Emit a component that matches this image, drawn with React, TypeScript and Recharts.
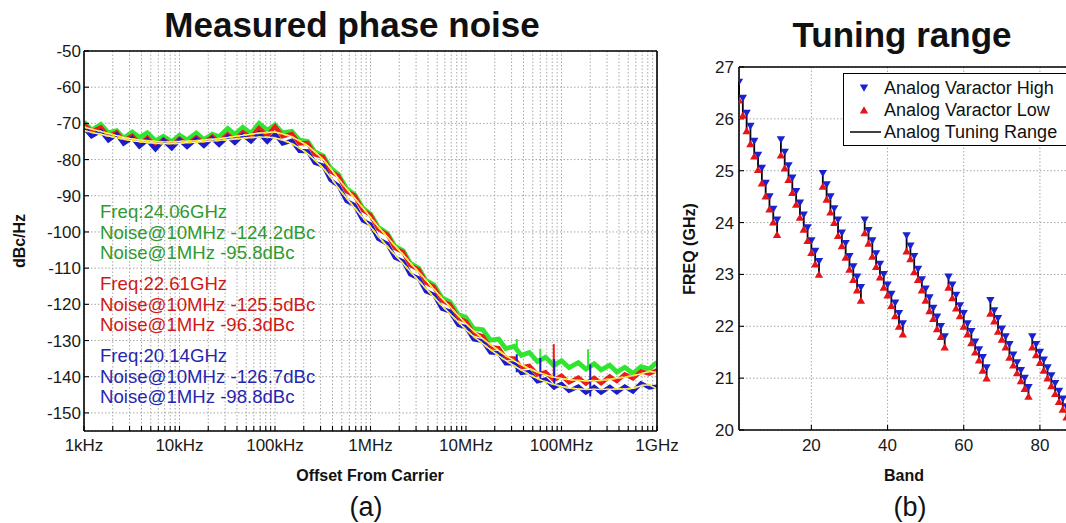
import React from 'react';
import { ComposedChart, Line, XAxis, YAxis, CartesianGrid, Scatter, ErrorBar, Legend } from 'recharts';

const FONT = '"Liberation Sans", Arial, Helvetica, sans-serif';

// ---------- Panel (a): measured phase noise ----------
const offsetFreqs = [
  1e3, 1.2e3, 1.5e3, 1.8e3, 2.2e3, 2.6e3, 3.2e3, 3.8e3, 4.6e3, 5.6e3, 6.8e3, 8.3e3,
  1e4, 1.2e4, 1.5e4, 1.8e4, 2.2e4, 2.6e4, 3.2e4, 3.8e4, 4.6e4, 5.6e4, 6.8e4, 8.3e4,
  1e5, 1.2e5, 1.5e5, 1.8e5, 2.2e5, 2.6e5, 3.2e5, 3.8e5, 4.6e5, 5.6e5, 6.8e5, 8.3e5,
  1e6, 1.2e6, 1.5e6, 1.8e6, 2.2e6, 2.6e6, 3.2e6, 3.8e6, 4.6e6, 5.6e6, 6.8e6, 8.3e6,
  1e7, 1.2e7, 1.5e7, 1.8e7, 2.2e7, 2.6e7, 3.2e7, 3.8e7, 4.6e7, 5.6e7, 6.8e7, 8.3e7,
  1e8, 1.2e8, 1.5e8, 1.8e8, 2.2e8, 2.6e8, 3.2e8, 3.8e8, 4.6e8, 5.6e8, 6.8e8, 8.3e8,
  1e9,
];

const greenNoise = [
  -69.6, -71.9, -70.3, -72.6, -72.0, -74.1, -72.4, -73.9, -72.6, -74.8, -73.6, -75.1,
  -73.3, -74.6, -72.7, -74.5, -73.0, -73.7, -71.4, -73.0, -71.1, -72.8, -70.0, -71.9,
  -70.4, -72.6, -72.2, -74.6, -75.0, -77.8, -79.0, -82.3, -84.1, -88.0, -89.6, -93.4,
  -95.0, -98.6, -100.4, -103.9, -105.2, -108.6, -110.0, -113.4, -114.6, -118.2, -119.3, -122.8,
  -123.6, -126.7, -127.0, -129.9, -129.6, -132.2, -131.6, -134.1, -133.3, -135.8, -134.6, -136.9,
  -135.6, -137.5, -136.1, -137.9, -136.4, -138.1, -136.8, -138.7, -137.4, -139.1, -137.2, -137.9,
  -136.0,
];

const redNoise = [
  -70.2, -72.3, -71.1, -73.6, -72.5, -74.8, -73.4, -75.6, -74.0, -76.3, -74.4, -76.0,
  -74.2, -75.8, -73.9, -75.5, -73.6, -75.1, -73.0, -74.5, -72.4, -73.9, -71.3, -73.4,
  -70.9, -73.6, -72.9, -75.6, -75.4, -78.6, -79.3, -83.2, -84.5, -88.8, -89.9, -94.0,
  -95.3, -99.2, -100.7, -104.5, -105.6, -109.2, -110.4, -114.0, -115.1, -119.0, -120.0, -123.8,
  -124.7, -128.0, -128.8, -131.9, -132.1, -134.9, -134.9, -137.4, -137.0, -139.4, -138.7, -140.9,
  -139.7, -141.6, -140.2, -141.9, -140.3, -141.8, -139.9, -141.2, -139.3, -140.5, -138.5, -139.2,
  -138.2,
];

const redSmooth = [
  -71.0, -71.6, -72.2, -72.8, -73.4, -73.9, -74.3, -74.6, -74.8, -75.0, -75.1, -75.1,
  -75.0, -74.9, -74.8, -74.6, -74.4, -74.2, -73.9, -73.6, -73.3, -73.0, -72.7, -72.5,
  -72.4, -72.9, -73.7, -74.8, -76.2, -77.8, -80.0, -82.4, -85.3, -88.0, -90.6, -93.3,
  -96.0, -98.5, -101.4, -103.8, -106.3, -108.5, -111.1, -113.3, -115.8, -118.3, -120.7, -123.1,
  -125.4, -127.3, -129.5, -131.1, -132.8, -134.1, -135.6, -136.7, -137.8, -138.7, -139.5, -140.1,
  -140.5, -140.8, -141.0, -141.1, -141.1, -141.0, -140.7, -140.4, -140.1, -139.7, -139.2, -138.5,
  -138.9,
];

const blueNoise = [
  -71.2, -73.6, -72.1, -74.7, -73.0, -75.6, -74.0, -76.4, -74.6, -77.2, -74.7, -76.9,
  -74.6, -76.5, -74.3, -76.2, -74.1, -75.9, -73.6, -75.4, -73.2, -75.0, -72.7, -75.1,
  -72.9, -75.6, -74.8, -77.6, -77.7, -80.9, -81.7, -85.6, -87.2, -91.4, -92.6, -96.8,
  -97.9, -101.9, -103.3, -107.1, -108.1, -111.7, -112.8, -116.4, -117.3, -121.2, -122.0, -125.7,
  -126.3, -129.7, -130.2, -133.3, -133.5, -136.3, -136.3, -139.0, -138.7, -141.3, -140.7, -142.9,
  -142.0, -143.9, -142.7, -144.4, -142.8, -144.4, -142.8, -144.3, -142.7, -144.1, -141.8, -143.0,
  -142.7,
];

const blueSmooth = [
  -72.0, -72.5, -73.0, -73.5, -74.0, -74.3, -74.8, -75.0, -75.3, -75.5, -75.6, -75.6,
  -75.5, -75.3, -75.2, -75.0, -74.9, -74.7, -74.5, -74.3, -74.1, -73.9, -73.8, -73.8,
  -74.0, -74.6, -75.6, -76.8, -78.4, -80.1, -82.4, -84.8, -87.9, -90.6, -93.3, -96.0,
  -98.6, -101.1, -104.0, -106.3, -108.8, -110.9, -113.5, -115.6, -118.0, -120.4, -122.7, -124.9,
  -127.0, -128.9, -130.9, -132.5, -134.2, -135.5, -137.0, -138.2, -139.4, -140.5, -141.4, -142.1,
  -142.7, -143.1, -143.4, -143.5, -143.5, -143.5, -143.5, -143.4, -143.4, -143.2, -142.5, -142.2,
  -143.4,
];

// spurs (vertical spikes)
const greenSpurFreqs = [3.4e7, 6.0e7, 1.9e8];
const greenSpurBase = [-133.0, -135.3, -137.1];
const greenSpurTop = [-129.6, -132.3, -132.4];
const redSpurFreqs = [8.3e7];
const redSpurBase = [-140.2];
const redSpurTop = [-131.0];
const blueSpurFreqs = [3.4e7, 6.0e7, 8.4e7, 2.0e8];
const blueSpurBase = [-138.8, -141.5, -143.6, -145.5];
const blueSpurTop = [-133.8, -134.8, -135.2, -136.6];

const xTicksA = [
  1e3, 2e3, 3e3, 4e3, 5e3, 6e3, 7e3, 8e3, 9e3,
  1e4, 2e4, 3e4, 4e4, 5e4, 6e4, 7e4, 8e4, 9e4,
  1e5, 2e5, 3e5, 4e5, 5e5, 6e5, 7e5, 8e5, 9e5,
  1e6, 2e6, 3e6, 4e6, 5e6, 6e6, 7e6, 8e6, 9e6,
  1e7, 2e7, 3e7, 4e7, 5e7, 6e7, 7e7, 8e7, 9e7,
  1e8, 2e8, 3e8, 4e8, 5e8, 6e8, 7e8, 8e8, 9e8,
  1e9,
];
const decadeValues = [1e3, 1e4, 1e5, 1e6, 1e7, 1e8, 1e9];
const decadeLabels = ['1kHz', '10kHz', '100kHz', '1MHz', '10MHz', '100MHz', '1GHz'];
const yTicksA = [-150, -140, -130, -120, -110, -100, -90, -80, -70, -60, -50];

const annotationColors = ['#2f9a2f', '#d01818', '#2626b0'];
const annotationLines = [
  ['Freq:24.06GHz', 'Noise@10MHz -124.2dBc', 'Noise@1MHz -95.8dBc'],
  ['Freq:22.61GHz', 'Noise@10MHz -125.5dBc', 'Noise@1MHz -96.3dBc'],
  ['Freq:20.14GHz', 'Noise@10MHz -126.7dBc', 'Noise@1MHz -98.8dBc'],
];

// ---------- Panel (b): tuning range ----------
const bands = [
  1, 2, 3, 4, 5, 6, 7, 8, 9, 10, 11,
  12, 13, 14, 15, 16, 17, 18, 19, 20, 21, 22,
  23, 24, 25, 26, 27, 28, 29, 30, 31, 32, 33,
  34, 35, 36, 37, 38, 39, 40, 41, 42, 43, 44,
  45, 46, 47, 48, 49, 50, 51, 52, 53, 54, 55,
  56, 57, 58, 59, 60, 61, 62, 63, 64, 65, 66,
  67, 68, 69, 70, 71, 72, 73, 74, 75, 76, 77,
  78, 79, 80, 81, 82, 83, 84, 85, 86, 87, 88,
];
const varactorHigh = [
  26.71, 26.40, 26.11, 25.86, 25.57, 25.30, 25.05, 24.76, 24.50, 24.26, 24.05,
  25.60, 25.36, 25.10, 24.86, 24.60, 24.38, 24.15, 23.90, 23.65, 23.45, 23.25,
  24.95, 24.73, 24.50, 24.27, 24.05, 23.80, 23.60, 23.35, 23.15, 22.95, 22.75,
  24.05, 23.85, 23.65, 23.40, 23.20, 23.00, 22.80, 22.62, 22.45, 22.25, 22.05,
  23.75, 23.55, 23.35, 23.10, 22.90, 22.72, 22.55, 22.35, 22.18, 22.00, 21.80,
  22.95, 22.80, 22.60, 22.40, 22.25, 22.05, 21.90, 21.70, 21.55, 21.40, 21.20,
  22.50, 22.30, 22.15, 21.95, 21.80, 21.65, 21.45, 21.30, 21.15, 21.00, 20.82,
  21.80, 21.65, 21.50, 21.35, 21.20, 21.05, 20.90, 20.75, 20.60, 20.45, 20.30,
];
const varactorLow = [
  26.36, 26.07, 25.77, 25.52, 25.28, 25.02, 24.76, 24.51, 24.26, 24.01, 23.77,
  25.30, 25.05, 24.83, 24.58, 24.35, 24.10, 23.87, 23.65, 23.42, 23.20, 23.00,
  24.70, 24.45, 24.20, 24.00, 23.75, 23.55, 23.33, 23.10, 22.90, 22.70, 22.50,
  23.80, 23.60, 23.35, 23.15, 22.95, 22.75, 22.60, 22.40, 22.20, 22.00, 21.85,
  23.45, 23.30, 23.05, 22.90, 22.70, 22.50, 22.30, 22.15, 21.95, 21.80, 21.60,
  22.75, 22.55, 22.35, 22.20, 22.00, 21.85, 21.68, 21.50, 21.35, 21.15, 21.00,
  22.25, 22.10, 21.90, 21.75, 21.60, 21.40, 21.25, 21.10, 20.95, 20.80, 20.65,
  21.60, 21.45, 21.30, 21.15, 21.00, 20.85, 20.70, 20.55, 20.40, 20.25, 20.10,
];
const xTicksB = [20, 40, 60, 80];
const yTicksB = [20, 21, 22, 23, 24, 25, 26, 27];
const legendLabels = ['Analog Varactor High', 'Analog Varactor Low', 'Analog Tuning Range'];

// ---------- derived tables ----------
const toSeries = (vals: number[]) => offsetFreqs.map((f, i) => ({ f, v: vals[i] }));
const toSpurs = (fs: number[], base: number[], top: number[]) => {
  const out: { f: number; v: number | null }[] = [];
  fs.forEach((f, i) => {
    out.push({ f, v: base[i] });
    out.push({ f, v: top[i] });
    out.push({ f, v: null });
  });
  return out;
};

const greenData = toSeries(greenNoise);
const redData = toSeries(redNoise);
const blueData = toSeries(blueNoise);
const redSmoothData = toSeries(redSmooth);
const blueSmoothData = toSeries(blueSmooth);
const greenSpurs = toSpurs(greenSpurFreqs, greenSpurBase, greenSpurTop);
const redSpurs = toSpurs(redSpurFreqs, redSpurBase, redSpurTop);
const blueSpurs = toSpurs(blueSpurFreqs, blueSpurBase, blueSpurTop);

const highData = bands.map((b, i) => ({ band: b, freq: varactorHigh[i], err: [varactorHigh[i] - varactorLow[i], 0] }));
const lowData = bands.map((b, i) => ({ band: b, freq: varactorLow[i] }));

const fmtFreq = (v: number) => {
  const k = decadeValues.indexOf(v);
  return k >= 0 ? decadeLabels[k] : '';
};

const GREEN = '#2fe52f';
const RED = '#ec1c1c';
const BLUE = '#1c1ccc';
const MARK_BLUE = '#1a22d0';
const MARK_RED = '#e4141a';

const DownTri = (props: any) => {
  const { cx, cy } = props;
  if (cx == null || cy == null) return null;
  return <path d={`M${cx - 4.2},${cy - 3.4} L${cx + 4.2},${cy - 3.4} L${cx},${cy + 3.8} Z`} fill={MARK_BLUE} />;
};
const UpTri = (props: any) => {
  const { cx, cy } = props;
  if (cx == null || cy == null) return null;
  return <path d={`M${cx - 4.2},${cy + 3.4} L${cx + 4.2},${cy + 3.4} L${cx},${cy - 3.8} Z`} fill={MARK_RED} />;
};

const TuningLegend = () => (
  <div
    style={{
      border: '1.5px solid #000',
      background: '#fff',
      width: 240,
      boxSizing: 'border-box',
      padding: '3px 0 2px 0',
      fontFamily: FONT,
      fontSize: 18,
      color: '#111',
    }}
  >
    {legendLabels.map((label, i) => (
      <div key={label} style={{ display: 'flex', alignItems: 'center', height: 22 }}>
        <svg width={40} height={22} style={{ flex: '0 0 40px' }}>
          {i === 0 && <path d="M15.8,7.6 L24.2,7.6 L20,14.8 Z" fill={MARK_BLUE} />}
          {i === 1 && <path d="M15.8,14.4 L24.2,14.4 L20,7.2 Z" fill={MARK_RED} />}
          {i === 2 && <line x1={6} y1={11} x2={37} y2={11} stroke="#000" strokeWidth={1.5} />}
        </svg>
        <span style={{ whiteSpace: 'nowrap', lineHeight: '22px' }}>{label}</span>
      </div>
    ))}
  </div>
);

const Txt = (p: { x: number; y: number; text: string; size: number; bold?: boolean; color?: string; rotate?: boolean; anchor?: 'center' | 'left' }) => (
  <div
    style={{
      position: 'absolute',
      left: p.x,
      top: p.y,
      transform: `${p.anchor === 'left' ? 'translate(0,-50%)' : 'translate(-50%,-50%)'}${p.rotate ? ' rotate(-90deg)' : ''}`,
      fontFamily: FONT,
      fontSize: p.size,
      fontWeight: p.bold ? 700 : 400,
      color: p.color || '#111',
      whiteSpace: 'nowrap',
      lineHeight: 1,
    }}
  >
    {p.text}
  </div>
);

const axisLineStyle = { stroke: '#000', strokeWidth: 1.6 };
const tickLineStyle = { stroke: '#000', strokeWidth: 1.1 };
const tickText = { fill: '#1a1a1a', fontSize: 17, fontFamily: FONT };
const NOISE_W = 4.2;

export default function App() {
  return (
    <div style={{ position: 'fixed', left: 0, top: 0, width: 1066, height: 523, overflow: 'hidden', background: '#fff' }}>
      {/* Panel (a) */}
      <div style={{ position: 'absolute', left: 0, top: 0, width: 680, height: 523 }}>
        <ComposedChart width={680} height={523} margin={{ top: 50, right: 22, bottom: 0, left: 0 }}>
          <CartesianGrid stroke="#a8a8a8" strokeDasharray="1.5 2" />
          <XAxis
            dataKey="f"
            type="number"
            scale="log"
            domain={[1e3, 1e9]}
            allowDataOverflow
            ticks={xTicksA}
            interval={0}
            tickFormatter={fmtFreq}
            height={92}
            tickSize={-5}
            tickMargin={13}
            axisLine={axisLineStyle}
            tickLine={tickLineStyle}
            tick={tickText}
          />
          <XAxis
            xAxisId="top"
            orientation="top"
            dataKey="f"
            type="number"
            scale="log"
            domain={[1e3, 1e9]}
            allowDataOverflow
            ticks={xTicksA}
            interval={0}
            height={1}
            tick={false}
            tickSize={-5}
            axisLine={axisLineStyle}
            tickLine={tickLineStyle}
          />
          <YAxis
            type="number"
            domain={[-155, -50]}
            allowDataOverflow
            ticks={yTicksA}
            interval={0}
            width={84}
            tickSize={-5}
            tickMargin={8}
            axisLine={axisLineStyle}
            tickLine={tickLineStyle}
            tick={tickText}
          />
          <YAxis
            yAxisId="right"
            orientation="right"
            type="number"
            domain={[-155, -50]}
            allowDataOverflow
            ticks={yTicksA}
            interval={0}
            width={1}
            tick={false}
            tickSize={-5}
            axisLine={axisLineStyle}
            tickLine={tickLineStyle}
          />
          <Line data={greenData} dataKey="v" stroke={GREEN} strokeWidth={NOISE_W + 0.6} strokeLinejoin="miter" dot={false} activeDot={false} isAnimationActive={false} />
          <Line data={greenSpurs} dataKey="v" stroke={GREEN} strokeWidth={2} dot={false} activeDot={false} isAnimationActive={false} connectNulls={false} />
          <Line data={redData} dataKey="v" stroke={RED} strokeWidth={NOISE_W} strokeLinejoin="miter" dot={false} activeDot={false} isAnimationActive={false} />
          <Line data={redSpurs} dataKey="v" stroke={RED} strokeWidth={2} dot={false} activeDot={false} isAnimationActive={false} connectNulls={false} />
          <Line data={blueData} dataKey="v" stroke={BLUE} strokeWidth={NOISE_W} strokeLinejoin="miter" dot={false} activeDot={false} isAnimationActive={false} />
          <Line data={blueSpurs} dataKey="v" stroke={BLUE} strokeWidth={2} dot={false} activeDot={false} isAnimationActive={false} connectNulls={false} />
          <Line data={redSmoothData} dataKey="v" stroke="#fff6cf" strokeWidth={1.4} dot={false} activeDot={false} isAnimationActive={false} />
          <Line data={redSmoothData} dataKey="v" stroke="#f7e41c" strokeWidth={1.9} strokeDasharray="4 3" dot={false} activeDot={false} isAnimationActive={false} />
          <Line data={blueSmoothData} dataKey="v" stroke="#fff6cf" strokeWidth={1.4} dot={false} activeDot={false} isAnimationActive={false} />
          <Line data={blueSmoothData} dataKey="v" stroke="#f7e41c" strokeWidth={1.9} strokeDasharray="4 3" dot={false} activeDot={false} isAnimationActive={false} />
        </ComposedChart>
      </div>

      {/* Panel (b) */}
      <div style={{ position: 'absolute', left: 680, top: 0, width: 420, height: 523 }}>
        <ComposedChart width={420} height={523} margin={{ top: 66, right: 22, bottom: 0, left: 0 }}>
          <CartesianGrid stroke="#a8a8a8" strokeDasharray="1.5 2" />
          <XAxis
            dataKey="band"
            type="number"
            domain={[1, 90]}
            allowDataOverflow
            ticks={xTicksB}
            interval={0}
            height={93}
            tickSize={-5}
            tickMargin={14}
            axisLine={axisLineStyle}
            tickLine={tickLineStyle}
            tick={tickText}
          />
          <XAxis
            xAxisId="top"
            orientation="top"
            dataKey="band"
            type="number"
            domain={[1, 90]}
            allowDataOverflow
            ticks={xTicksB}
            interval={0}
            height={1}
            tick={false}
            tickSize={-5}
            axisLine={axisLineStyle}
            tickLine={tickLineStyle}
          />
          <YAxis
            dataKey="freq"
            type="number"
            domain={[20, 27]}
            allowDataOverflow
            ticks={yTicksB}
            interval={0}
            width={59}
            tickSize={-5}
            tickMargin={10}
            axisLine={axisLineStyle}
            tickLine={tickLineStyle}
            tick={tickText}
          />
          <Scatter data={highData} dataKey="freq" shape={DownTri} isAnimationActive={false}>
            <ErrorBar dataKey="err" direction="y" width={0} stroke="#000" strokeWidth={1.8} isAnimationActive={false} />
          </Scatter>
          <Scatter data={lowData} dataKey="freq" shape={UpTri} isAnimationActive={false} />
          <Legend
            content={() => <TuningLegend />}
            layout="vertical"
            align="center"
            verticalAlign="middle"
            wrapperStyle={{ left: 163, top: 73, width: 240, height: 'auto' }}
          />
        </ComposedChart>
      </div>

      {/* titles and labels */}
      <Txt x={352} y={24} text="Measured phase noise" size={35} bold />
      <Txt x={20} y={241} text="dBc/Hz" size={16} bold rotate />
      <Txt x={370} y={476} text="Offset From Carrier" size={16} bold />
      <Txt x={366} y={507} text="(a)" size={27} />
      {annotationLines.map((group, g) =>
        group.map((line, j) => (
          <Txt key={`${g}-${j}`} x={100} y={212 + g * 72 + j * 20.6} text={line} size={18.6} color={annotationColors[g]} anchor="left" />
        ))
      )}
      <Txt x={902} y={34} text="Tuning range" size={35} bold />
      <Txt x={690} y={249} text="FREQ (GHz)" size={16} bold rotate />
      <Txt x={904} y={476} text="Band" size={16} bold />
      <Txt x={910} y={507} text="(b)" size={27} />
    </div>
  );
}
